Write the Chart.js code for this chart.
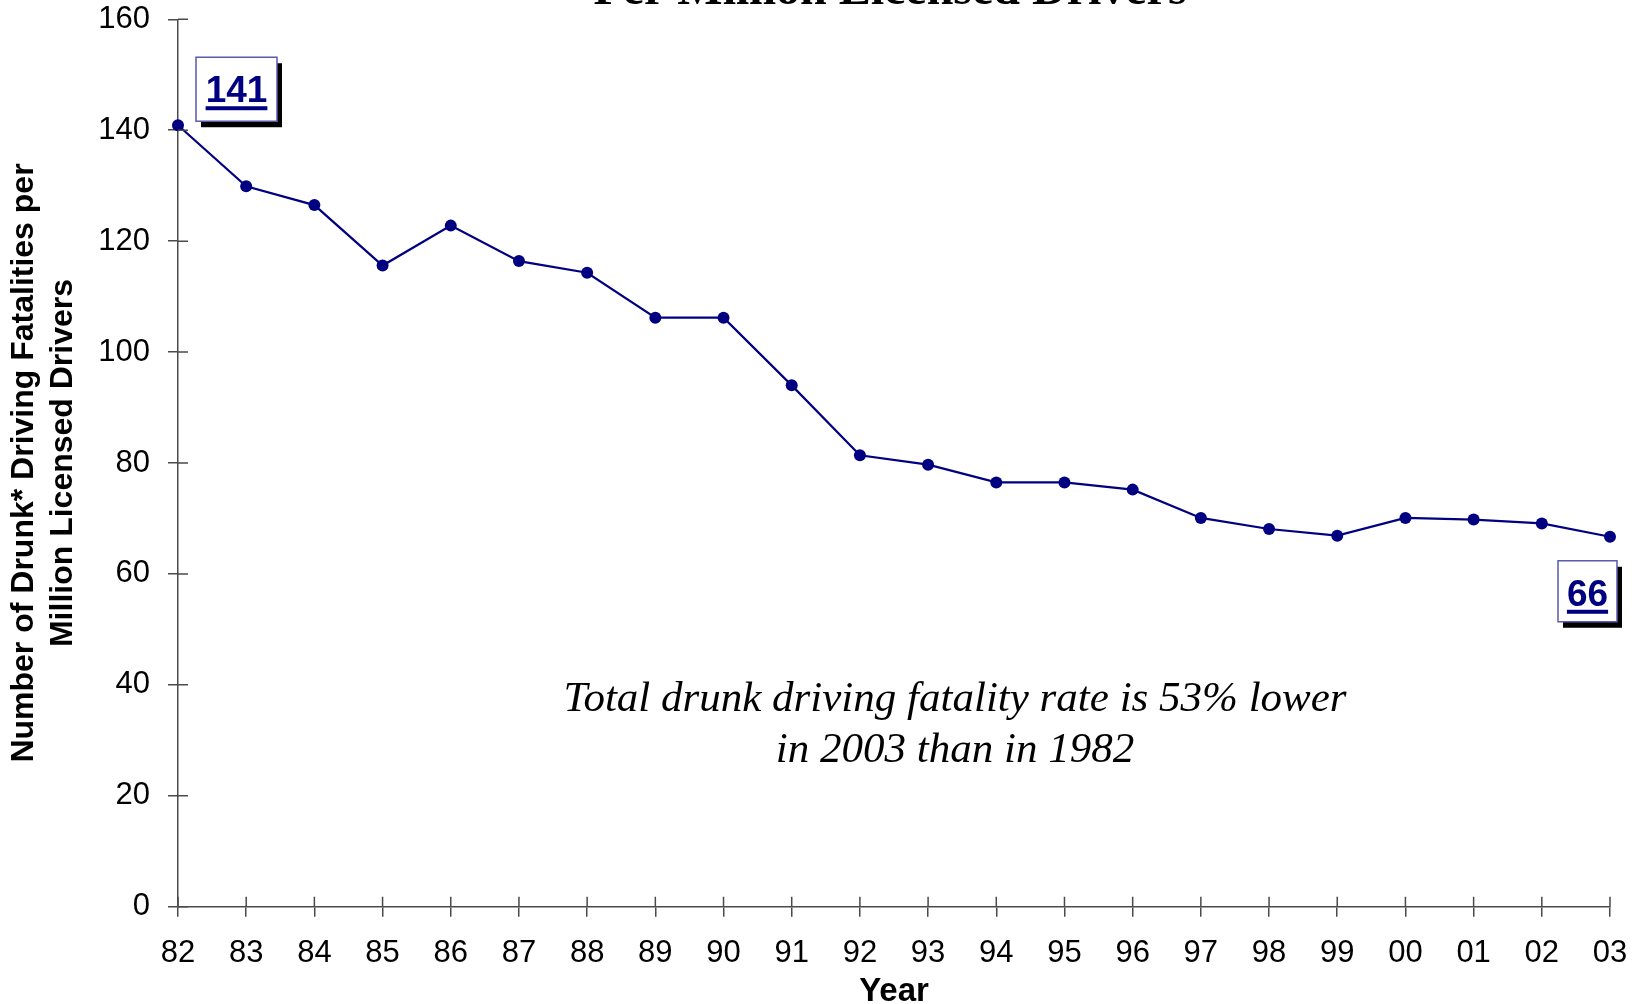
<!DOCTYPE html>
<html>
<head>
<meta charset="utf-8">
<title>Drunk driving fatalities per million licensed drivers</title>
<script src="https://cdn.jsdelivr.net/npm/chart.js@4/dist/chart.umd.min.js"></script>
<style>
  html, body { margin: 0; padding: 0; background: #fff; overflow: hidden; }
  #wrap { position: relative; width: 1636px; height: 1004px; }
</style>
</head>
<body>
<div id="wrap"><canvas id="chart" width="1636" height="1004"></canvas></div>
<script>
// values
const years = ['82', '83', '84', '85', '86', '87', '88', '89', '90', '91', '92',
               '93', '94', '95', '96', '97', '98', '99', '00', '01', '02', '03'];
const rates = [140.9, 129.9, 126.5, 115.6, 122.8, 116.4, 114.3, 106.2, 106.2, 94.0, 81.4,
               79.7, 76.5, 76.5, 75.2, 70.1, 68.1, 66.9, 70.1, 69.8, 69.1, 66.7];
const yTickValues = [0, 20, 40, 60, 80, 100, 120, 140, 160];
const calloutYears = ['82', '03'];
const calloutTexts = ['141', '66'];
const titleText = 'Per Million Licensed Drivers';
const noteLines = ['Total drunk driving fatality rate is 53% lower', 'in 2003 than in 1982'];

const NAVY = '#000080';
const AXIS = '#4a4a4a';
const SANS = '"Liberation Sans", Arial, sans-serif';

// tick marks in the reference cross the axis line; the library draws the outer half
const crossTicks = {
    id: 'crossTicks',
    afterDraw(chart) {
        const ctx = chart.ctx;
        const xs = chart.scales.x, ys = chart.scales.y;
        ctx.save();
        ctx.strokeStyle = AXIS;
        ctx.lineWidth = 1.5;
        ctx.beginPath();
        yTickValues.forEach(function(v) {
            const y = ys.getPixelForValue(v);
            ctx.moveTo(xs.left, y);
            ctx.lineTo(xs.left + 10, y);
        });
        years.forEach(function(yr, i) {
            const x = xs.getPixelForValue(i);
            ctx.moveTo(x, ys.bottom);
            ctx.lineTo(x, ys.bottom - 10);
        });
        ctx.stroke();
        ctx.restore();
    }
};

// the cut-off title line and the italic note
const textBits = {
    id: 'textBits',
    afterDraw(chart) {
        const ctx = chart.ctx;
        ctx.save();
        ctx.fillStyle = '#000';
        ctx.textAlign = 'center';
        ctx.textBaseline = 'alphabetic';
        ctx.font = 'bold 48px "Liberation Serif", "Times New Roman", serif';
        ctx.fillText(titleText, 890, 4);

        ctx.font = 'italic 43px "Liberation Serif", "Times New Roman", serif';
        ctx.fillText(noteLines[0], 955, 711);
        ctx.fillText(noteLines[1], 955, 762);
        ctx.restore();
    }
};

// boxed value labels with drop shadow
const callouts = {
    id: 'callouts',
    afterDatasetsDraw(chart) {
        const ctx = chart.ctx;
        const xs = chart.scales.x, ys = chart.scales.y;
        // box placement relative to its point: [dx, dy, width, height]
        const place = {
            '82': [18, -68, 81, 64],
            '03': [-52, 24, 59, 61]
        };
        ctx.save();
        calloutYears.forEach(function(yr, k) {
            const i = years.indexOf(yr);
            const px = xs.getPixelForValue(i);
            const py = ys.getPixelForValue(rates[i]);
            const p = place[yr];
            const left = px + p[0], top = py + p[1], w = p[2], h = p[3];

            ctx.fillStyle = '#000';
            ctx.fillRect(left + 5, top + 6, w, h);
            ctx.fillStyle = '#fff';
            ctx.fillRect(left, top, w, h);
            ctx.strokeStyle = '#5a5ab0';
            ctx.lineWidth = 1.5;
            ctx.strokeRect(left, top, w, h);

            ctx.font = 'bold 37px ' + SANS;
            ctx.fillStyle = NAVY;
            ctx.textAlign = 'center';
            ctx.textBaseline = 'alphabetic';
            const cx = left + w / 2;
            const base = top + 45;
            ctx.fillText(calloutTexts[k], cx, base);
            const tw = ctx.measureText(calloutTexts[k]).width;
            ctx.fillRect(cx - tw / 2, base + 4, tw, 4);
        });
        ctx.restore();
    }
};

const ctx = document.getElementById('chart').getContext('2d');
new Chart(ctx, {
    type: 'line',
    data: {
        labels: years,
        datasets: [{
            data: rates,
            borderColor: NAVY,
            backgroundColor: NAVY,
            borderWidth: 2.2,
            tension: 0,
            pointRadius: 6,
            pointBorderWidth: 0,
            pointBackgroundColor: NAVY,
            clip: false
        }]
    },
    options: {
        responsive: false,
        devicePixelRatio: 1,
        animation: false,
        layout: { padding: { top: 19.3, right: 26, left: 0, bottom: 0 } },
        plugins: {
            legend: { display: false },
            tooltip: { enabled: false }
        },
        scales: {
            x: {
                offset: false,
                grid: { display: true, drawOnChartArea: false, drawTicks: true, tickLength: 10, color: AXIS, lineWidth: 1.5 },
                border: { display: true, color: AXIS, width: 1.5 },
                ticks: {
                    autoSkip: false,
                    maxRotation: 0,
                    padding: 18,
                    color: '#000',
                    font: { family: SANS, size: 31 }
                },
                title: {
                    display: true,
                    text: 'Year',
                    color: '#000',
                    padding: { top: 0, bottom: 0 },
                    font: { family: SANS, size: 33, weight: 'bold', lineHeight: 0.76 }
                },
                afterFit: function(scale) {
                    scale.height = 97.3;
                    scale.paddingLeft = 0;
                    scale.paddingRight = 0;
                }
            },
            y: {
                min: 0,
                max: 160,
                afterBuildTicks: function(scale) {
                    scale.ticks = yTickValues.map(function(v) { return { value: v }; });
                },
                grid: { display: true, drawOnChartArea: false, drawTicks: true, tickLength: 10, color: AXIS, lineWidth: 1.5 },
                border: { display: true, color: AXIS, width: 1.5 },
                ticks: {
                    padding: 18,
                    color: '#000',
                    font: { family: SANS, size: 31 }
                },
                title: {
                    display: true,
                    text: ['Number of Drunk* Driving Fatalities per', 'Million Licensed Drivers'],
                    color: '#000',
                    padding: { top: 4.5, bottom: 0 },
                    font: { family: SANS, size: 32, weight: 'bold', lineHeight: 1.22 }
                },
                afterFit: function(scale) {
                    scale.width = 178;
                    scale.paddingTop = 0;
                    scale.paddingBottom = 0;
                }
            }
        }
    },
    plugins: [crossTicks, textBits, callouts]
});
</script>
</body>
</html>
